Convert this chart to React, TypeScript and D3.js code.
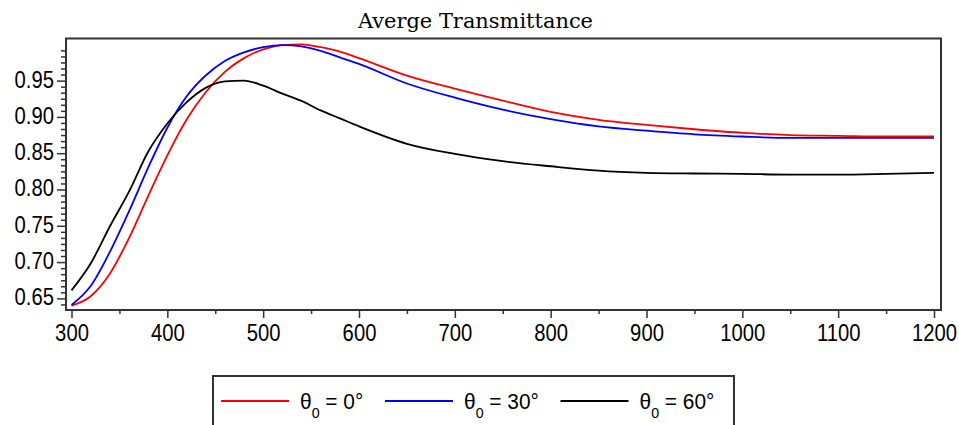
import { useEffect, useRef } from 'react';
import * as d3 from 'd3';

const W = 959;
const H = 425;
const frame = { left: 66, right: 941, top: 38.5, bottom: 310 };

// wavelength (nm)
const wavelengths = [300, 320, 340, 360, 380, 400, 420, 440, 460, 480, 500, 520, 540, 560, 580, 600, 650, 700, 750, 800, 850, 900, 950, 1000, 1050, 1100, 1150, 1200];
// average transmittance for each incidence angle
const theta0 = [0.640, 0.653, 0.684, 0.733, 0.791, 0.847, 0.896, 0.934, 0.962, 0.981, 0.993, 0.999, 1.000, 0.996, 0.990, 0.981, 0.957, 0.939, 0.9225, 0.907, 0.896, 0.889, 0.883, 0.878, 0.875, 0.874, 0.873, 0.873];
const theta30 = [0.641, 0.667, 0.714, 0.770, 0.830, 0.885, 0.928, 0.957, 0.977, 0.989, 0.996, 0.999, 0.997, 0.991, 0.982, 0.973, 0.946, 0.9265, 0.910, 0.897, 0.887, 0.881, 0.876, 0.873, 0.871, 0.871, 0.871, 0.871];
const theta60 = [0.661, 0.698, 0.749, 0.797, 0.852, 0.891, 0.920, 0.940, 0.949, 0.950, 0.943, 0.932, 0.922, 0.909, 0.898, 0.887, 0.863, 0.849, 0.839, 0.832, 0.826, 0.823, 0.822, 0.8215, 0.8205, 0.8205, 0.8215, 0.823];

const angles = ['0', '30', '60'];
const colors = ['#ff0000', '#0000ff', '#000000'];

const xTicks = [300, 400, 500, 600, 700, 800, 900, 1000, 1100, 1200];
const yTicks = [0.65, 0.70, 0.75, 0.80, 0.85, 0.90, 0.95];

// legend entry start positions (layout)
const legendStarts = [221, 385, 560.5];

const squeeze = 0.88; // tick font is tall and narrow

const App = () => {
    const ref = useRef<SVGGElement | null>(null);

    useEffect(() => {
        if (!ref.current) return;
        const g = d3.select(ref.current);
        g.selectAll('*').remove();

        const x = d3.scaleLinear().domain([300, 1200]).range([71.5, 934]);
        const y = d3.scaleLinear().domain([0.634, 1.008]).range([frame.bottom, frame.top]);

        const xMinor = xTicks.slice(0, -1).map(d => d + 50);
        const yStep = 0.05 / 6;
        const yMinor = d3.range(-1, 42)
            .filter(i => i % 6 !== 0)
            .map(i => yTicks[0] + i * yStep);

        const font = '"Liberation Sans", Arial, sans-serif';

        // minor ticks
        g.append('g')
            .attr('transform', `translate(0, ${frame.bottom})`)
            .call(d3.axisBottom(x).tickValues(xMinor).tickSize(4).tickFormat(() => ''))
            .call(s => s.select('.domain').remove())
            .selectAll('line').attr('stroke', '#333').attr('stroke-width', 1.5);

        g.append('g')
            .attr('transform', `translate(${frame.left}, 0)`)
            .call(d3.axisLeft(y).tickValues(yMinor).tickSize(5).tickFormat(() => ''))
            .call(s => s.select('.domain').remove())
            .selectAll('line').attr('stroke', '#333').attr('stroke-width', 1.5);

        // major ticks + labels
        const xAxisG = g.append('g')
            .attr('transform', `translate(0, ${frame.bottom})`)
            .call(d3.axisBottom(x).tickValues(xTicks).tickSize(8).tickPadding(7).tickFormat(d3.format('d')));
        xAxisG.select('.domain').remove();
        xAxisG.selectAll('line').attr('stroke', '#333').attr('stroke-width', 1.5);
        xAxisG.selectAll('text')
            .attr('transform', `scale(${squeeze},1)`)
            .style('font-family', font)
            .style('font-size', '23px')
            .attr('fill', '#000');

        const yAxisG = g.append('g')
            .attr('transform', `translate(${frame.left}, 0)`)
            .call(d3.axisLeft(y).tickValues(yTicks).tickSize(9).tickPadding(3).tickFormat(d3.format('.2f')));
        yAxisG.select('.domain').remove();
        yAxisG.selectAll('line').attr('stroke', '#333').attr('stroke-width', 1.5);
        yAxisG.selectAll('text')
            .attr('x', -12 / squeeze)
            .attr('dy', '0.28em')
            .attr('transform', `scale(${squeeze},1)`)
            .style('font-family', font)
            .style('font-size', '23px')
            .attr('fill', '#000');

        // curves
        const series = [theta0, theta30, theta60];
        const line = d3.line<number>()
            .x((_, i) => x(wavelengths[i]))
            .y(d => y(d))
            .curve(d3.curveMonotoneX);

        series.forEach((vals, k) => {
            g.append('path')
                .attr('d', line(vals))
                .attr('fill', 'none')
                .attr('stroke', colors[k])
                .attr('stroke-width', 1.8);
        });

        // frame
        g.append('rect')
            .attr('x', frame.left)
            .attr('y', frame.top)
            .attr('width', frame.right - frame.left)
            .attr('height', frame.bottom - frame.top)
            .attr('fill', 'none')
            .attr('stroke', '#333')
            .attr('stroke-width', 2);

        // title
        g.append('text')
            .attr('x', 475.5)
            .attr('y', 28)
            .attr('text-anchor', 'middle')
            .attr('textLength', 235)
            .attr('lengthAdjust', 'spacingAndGlyphs')
            .style('font-family', '"DejaVu Serif", serif')
            .style('font-size', '20px')
            .attr('fill', '#000')
            .text('Averge Transmittance');

        // legend
        const legend = g.append('g');
        legend.append('rect')
            .attr('x', 213)
            .attr('y', 376)
            .attr('width', 734 - 213)
            .attr('height', 70)
            .attr('fill', '#fff')
            .attr('stroke', '#333')
            .attr('stroke-width', 2);

        angles.forEach((a, k) => {
            const x0 = legendStarts[k];
            legend.append('line')
                .attr('x1', x0)
                .attr('x2', x0 + 68)
                .attr('y1', 401)
                .attr('y2', 401)
                .attr('stroke', colors[k])
                .attr('stroke-width', 1.8);
            const t = legend.append('text')
                .attr('transform', `translate(${x0 + 79}, 409) scale(0.95,1)`)
                .style('font-family', font)
                .style('font-size', '22px')
                .attr('fill', '#000');
            t.append('tspan').text('θ');
            t.append('tspan').attr('dy', 9).style('font-size', '15px').text('0');
            t.append('tspan').attr('dy', -9).text(` = ${a}°`);
        });
    }, []);

    return (
        <svg
            width={W}
            height={H}
            style={{ position: 'absolute', left: 0, top: 0, background: '#fff' }}
        >
            <g ref={ref}></g>
        </svg>
    );
};

export default App;
